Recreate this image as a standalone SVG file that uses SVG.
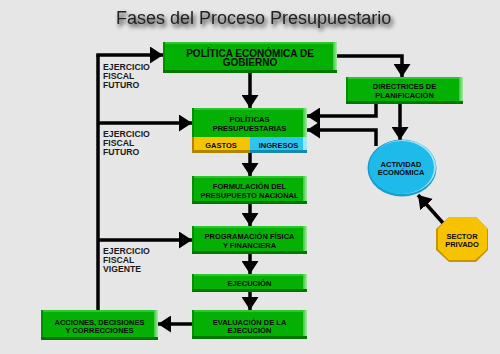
<svg xmlns="http://www.w3.org/2000/svg" width="500" height="354" viewBox="0 0 500 354">
<defs>
<marker id="ah" markerUnits="userSpaceOnUse" markerWidth="14" markerHeight="17" refX="13" refY="8.5" orient="auto" viewBox="0 0 14 17">
<path d="M0,0 L13,8.5 L0,17 z" fill="#000"/>
</marker>
<filter id="sh" x="-10%" y="-60%" width="120%" height="220%">
<feGaussianBlur in="SourceAlpha" stdDeviation="2"/>
<feOffset dx="1.5" dy="2.5" result="b"/>
<feFlood flood-color="#000" flood-opacity="0.9"/>
<feComposite in2="b" operator="in"/>
<feMerge><feMergeNode/><feMergeNode in="SourceGraphic"/></feMerge>
</filter>
<linearGradient id="rg" x1="0" y1="0" x2="1" y2="0">
<stop offset="0" stop-color="#3cc83c"/>
<stop offset="1" stop-color="#a8e8a8"/>
</linearGradient>
</defs>
<style>
.bg{fill:#e6e6e6}
.g{fill:#03b003}
.gt{fill:#2fc42f}
.gl{fill:#009000}
.gr{fill:url(#rg)}
.gb{fill:#007800}
.t{font-family:"Liberation Sans",Arial,sans-serif;font-weight:bold;fill:#0a0a0a;text-anchor:middle}
.s{font-size:7.5px}
.lab{font-family:"Liberation Sans",Arial,sans-serif;font-weight:bold;font-size:8.7px;fill:#1a1a1a}
.c{fill:none;stroke:#000;stroke-width:3.5}
.ca{fill:none;stroke:#000;stroke-width:3.5;marker-end:url(#ah)}
</style>
<rect class="bg" x="0" y="0" width="500" height="354"/>
<text x="116" y="24" font-family="'Liberation Sans',Arial,sans-serif" font-size="18" fill="#222" filter="url(#sh)">Fases del Proceso Presupuestario</text>

<g id="connectors">
<polyline class="c" points="98,310 98,55"/>
<polyline class="ca" points="96.25,55 163,55"/>
<polyline class="ca" points="98,123 192,123"/>
<polyline class="ca" points="98,240 192,240"/>
<polyline class="ca" points="250,73 250,108"/>
<polyline class="ca" points="337,56 402,56 402,77"/>
<polyline class="ca" points="376,104 376,116 307,116"/>
<polyline class="ca" points="376,146 376,130 307,130"/>
<polyline class="ca" points="400,104 400,140"/>
<polyline class="ca" points="443,223 418,195"/>
<polyline class="ca" points="250,153 250,176"/>
<polyline class="ca" points="250,204 250,226"/>
<polyline class="ca" points="250,254 250,274"/>
<polyline class="ca" points="250,292 250,310"/>
<polyline class="ca" points="192,324 158,324"/>
</g>

<g id="lbl-futuro1">
<text class="lab" x="103" y="70">EJERCICIO</text>
<text class="lab" x="103" y="79">FISCAL</text>
<text class="lab" x="103" y="88">FUTURO</text>
</g>
<g id="lbl-futuro2">
<text class="lab" x="103" y="137">EJERCICIO</text>
<text class="lab" x="103" y="146">FISCAL</text>
<text class="lab" x="103" y="155">FUTURO</text>
</g>
<g id="lbl-vigente">
<text class="lab" x="103" y="253.5">EJERCICIO</text>
<text class="lab" x="103" y="262.5">FISCAL</text>
<text class="lab" x="103" y="271.5">VIGENTE</text>
</g>

<g id="politica-economica">
<rect class="g" x="163" y="42" width="174" height="31"/>
<rect class="gt" x="163" y="42" width="174" height="2"/>
<rect class="gl" x="163" y="42" width="2" height="31"/>
<rect class="gr" x="333" y="42" width="4" height="31"/>
<rect class="gb" x="163" y="70" width="174" height="3"/>
<text class="t" x="250" y="56.5" font-size="10">POLÍTICA ECONÓMICA DE</text>
<text class="t" x="250" y="66" font-size="10">GOBIERNO</text>
</g>

<g id="directrices">
<rect class="g" x="346" y="77" width="117" height="27"/>
<rect class="gt" x="346" y="77" width="117" height="2"/>
<rect class="gl" x="346" y="77" width="2" height="27"/>
<rect class="gr" x="459" y="77" width="4" height="27"/>
<rect class="gb" x="346" y="101" width="117" height="3"/>
<text class="t s" x="404.5" y="88.5">DIRECTRICES DE</text>
<text class="t s" x="404.5" y="98">PLANIFICACIÓN</text>
</g>

<g id="politicas-presupuestarias">
<rect class="g" x="192" y="108" width="115" height="29"/>
<rect class="gt" x="192" y="108" width="115" height="2"/>
<rect class="gl" x="192" y="108" width="2" height="29"/>
<rect class="gr" x="303" y="108" width="4" height="29"/>
<rect x="192" y="137" width="58" height="16" fill="#f5c400"/>
<rect x="192" y="137" width="2" height="16" fill="#b08600"/>
<rect x="192" y="150" width="58" height="3" fill="#b08600"/>
<rect x="250" y="137" width="57" height="16" fill="#2ec4f0"/>
<rect x="303" y="137" width="4" height="16" fill="#9ee6fb"/>
<rect x="250" y="150" width="57" height="3" fill="#1a88aa"/>
<text class="t s" x="249.5" y="121.7">POLÍTICAS</text>
<text class="t s" x="249.5" y="131">PRESUPUESTARIAS</text>
<text class="t s" x="221" y="148">GASTOS</text>
<text class="t s" x="278.5" y="148">INGRESOS</text>
</g>

<g id="formulacion">
<rect class="g" x="192" y="176" width="115" height="28"/>
<rect class="gt" x="192" y="176" width="115" height="2"/>
<rect class="gl" x="192" y="176" width="2" height="28"/>
<rect class="gr" x="303" y="176" width="4" height="28"/>
<rect class="gb" x="192" y="201" width="115" height="3"/>
<text class="t s" x="249.5" y="189">FORMULACIÓN DEL</text>
<text class="t s" x="249.5" y="198">PRESUPUESTO NACIONAL</text>
</g>

<g id="programacion">
<rect class="g" x="192" y="226" width="115" height="28"/>
<rect class="gt" x="192" y="226" width="115" height="2"/>
<rect class="gl" x="192" y="226" width="2" height="28"/>
<rect class="gr" x="303" y="226" width="4" height="28"/>
<rect class="gb" x="192" y="251" width="115" height="3"/>
<text class="t s" x="249.5" y="239">PROGRAMACIÓN FÍSICA</text>
<text class="t s" x="249.5" y="247.5">Y FINANCIERA</text>
</g>

<g id="ejecucion">
<rect class="g" x="192" y="274" width="115" height="18"/>
<rect class="gt" x="192" y="274" width="115" height="2"/>
<rect class="gl" x="192" y="274" width="2" height="18"/>
<rect class="gr" x="303" y="274" width="4" height="18"/>
<rect class="gb" x="192" y="289" width="115" height="3"/>
<text class="t s" x="249.5" y="286">EJECUCIÓN</text>
</g>

<g id="evaluacion">
<rect class="g" x="192" y="310" width="115" height="29"/>
<rect class="gt" x="192" y="310" width="115" height="2"/>
<rect class="gl" x="192" y="310" width="2" height="29"/>
<rect class="gr" x="303" y="310" width="4" height="29"/>
<rect class="gb" x="192" y="336" width="115" height="3"/>
<text class="t s" x="249.5" y="324.5">EVALUACIÓN DE LA</text>
<text class="t s" x="249.5" y="333">EJECUCIÓN</text>
</g>

<g id="acciones">
<rect class="g" x="41" y="310" width="117" height="30"/>
<rect class="gt" x="41" y="310" width="117" height="2"/>
<rect class="gl" x="41" y="310" width="2" height="30"/>
<rect class="gr" x="154" y="310" width="4" height="30"/>
<rect class="gb" x="41" y="337" width="117" height="3"/>
<text class="t s" x="99.5" y="324.5">ACCIONES, DECISIONES</text>
<text class="t s" x="99.5" y="333">Y CORRECCIONES</text>
</g>

<g id="actividad-economica">
<ellipse cx="402" cy="168" rx="34.5" ry="28.5" fill="#1a9ccc"/>
<ellipse cx="403" cy="167" rx="33" ry="27" fill="#9fe4fa"/>
<ellipse cx="401.5" cy="167.5" rx="32.5" ry="26.5" fill="#1ebaea"/>
<text class="t s" x="401" y="167">ACTIVIDAD</text>
<text class="t s" x="401" y="175">ECONÓMICA</text>
</g>

<g id="sector-privado">
<polygon points="449,217 476,217 488,229 488,250 476,262 449,262 436,250 436,229" fill="#c89400"/>
<polygon points="449,217 476,217 487,228 487,249 475,260 449,260 438,249 438,229" fill="#f7c300"/>
<text class="t s" x="462" y="238.5">SECTOR</text>
<text class="t s" x="462" y="247">PRIVADO</text>
</g>
</svg>
